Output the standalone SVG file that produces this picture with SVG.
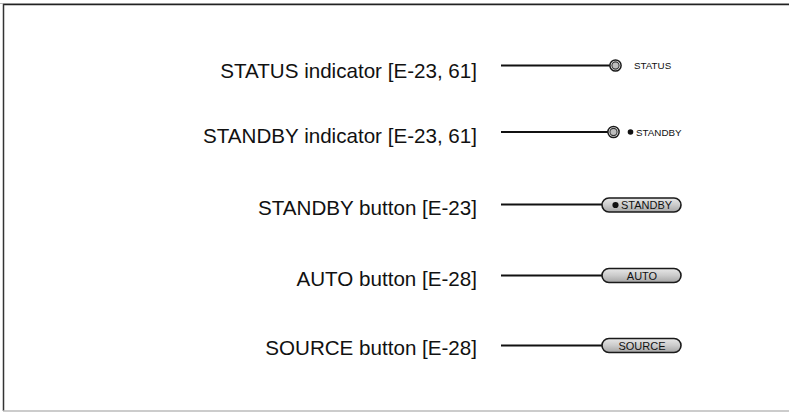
<svg xmlns="http://www.w3.org/2000/svg" width="789" height="412" viewBox="0 0 789 412">
<defs>
<linearGradient id="btn" x1="0" y1="0" x2="0" y2="1">
<stop offset="0" stop-color="#e8e8e8"/>
<stop offset="0.5" stop-color="#cbcbcb"/>
<stop offset="1" stop-color="#a5a5a5"/>
</linearGradient>
<style>
.lbl{font-family:"Liberation Sans",Arial,sans-serif;font-size:20.6px;fill:#111;text-anchor:end}
.small{font-family:"Liberation Sans",Arial,sans-serif;font-size:9.8px;fill:#111}
.btxt{font-family:"Liberation Sans",Arial,sans-serif;font-size:11px;fill:#111}
.conn{stroke:#111;stroke-width:2;fill:none}
.btn{fill:url(#btn);stroke:#1a1a1a;stroke-width:1.6}
.ledo{fill:#fff;stroke:#1a1a1a;stroke-width:1.5}
.ledi{fill:#bdbdbd;stroke:#333;stroke-width:1.1}
</style>
</defs>
<rect width="789" height="412" fill="#fff"/>
<g id="frame">
<line x1="0" y1="3.5" x2="789" y2="3.5" stroke="#bbb" stroke-width="1"/>
<line x1="3" y1="4.5" x2="789" y2="4.5" stroke="#222" stroke-width="1.5"/>
<line x1="3.5" y1="4" x2="3.5" y2="411" stroke="#333" stroke-width="1.5"/>
<line x1="3" y1="411" x2="789" y2="411" stroke="#bbb" stroke-width="1.5"/>
</g>
<g id="connectors">
<line class="conn" x1="501" y1="65.5" x2="610" y2="65.5"/>
<line class="conn" x1="501" y1="132" x2="608" y2="132"/>
<line class="conn" x1="501" y1="204.5" x2="602" y2="204.5"/>
<line class="conn" x1="501" y1="275.5" x2="602" y2="275.5"/>
<line class="conn" x1="501" y1="345.5" x2="602" y2="345.5"/>
</g>
<g id="status">
<text class="lbl" x="477" y="77.5">STATUS indicator [E-23, 61]</text>
<circle class="ledo" cx="615.5" cy="65.5" r="5.6"/>
<circle class="ledi" cx="615.5" cy="65.5" r="3.6"/>
<text class="small" x="634" y="69.3">STATUS</text>
</g>
<g id="standby-indicator">
<text class="lbl" x="477" y="142.5">STANDBY indicator [E-23, 61]</text>
<circle class="ledo" cx="613.5" cy="132" r="5.6"/>
<circle class="ledi" cx="613.5" cy="132" r="3.6"/>
<circle cx="630.5" cy="132" r="2.8" fill="#111"/>
<text class="small" x="636" y="135.6">STANDBY</text>
</g>
<g id="standby-button">
<text class="lbl" x="477" y="215">STANDBY button [E-23]</text>
<rect class="btn" x="602" y="198" width="79" height="14" rx="7"/>
<circle cx="615.5" cy="205" r="3.1" fill="#111"/>
<text class="btxt" x="621" y="209">STANDBY</text>
</g>
<g id="auto-button">
<text class="lbl" x="477" y="286">AUTO button [E-28]</text>
<rect class="btn" x="602" y="268.5" width="79" height="14" rx="7"/>
<text class="btxt" x="642" y="279.5" text-anchor="middle">AUTO</text>
</g>
<g id="source-button">
<text class="lbl" x="477" y="355">SOURCE button [E-28]</text>
<rect class="btn" x="602" y="338.5" width="79" height="14" rx="7"/>
<text class="btxt" x="642" y="349.5" text-anchor="middle">SOURCE</text>
</g>
</svg>
